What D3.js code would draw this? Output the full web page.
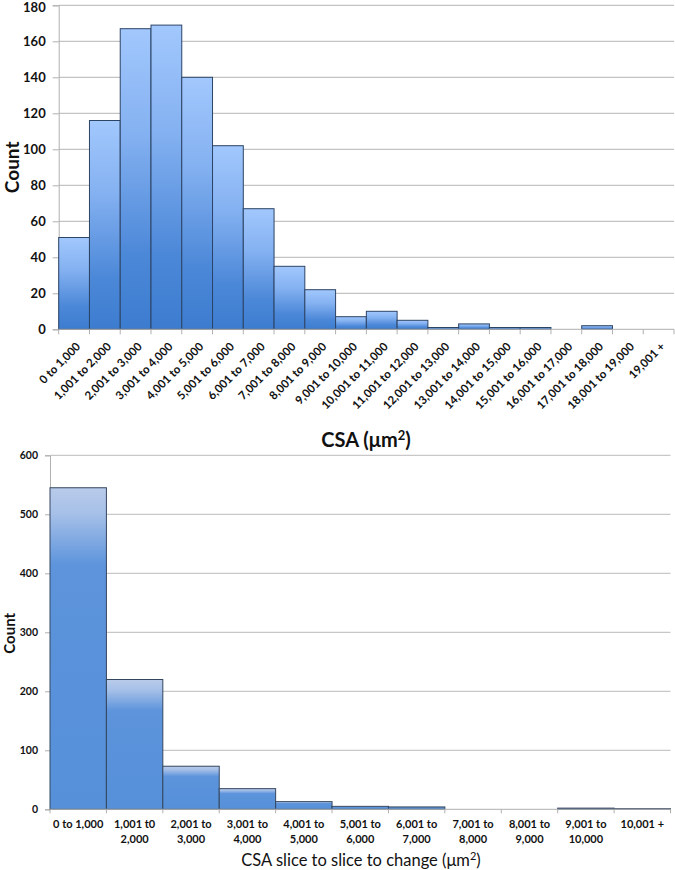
<!DOCTYPE html>
<html>
<head>
<meta charset="utf-8">
<script src="https://cdn.jsdelivr.net/npm/d3@7"></script>
<style>
  body { margin: 0; background: #fff; }
  svg { display: block; font-family: Lato, "Open Sans", sans-serif; }
</style>
</head>
<body>
<svg id="chart" width="675" height="870"></svg>
<script>
// ---------- Data ----------
const topCategories = ["0 to 1,000","1,001 to 2,000","2,001 to 3,000","3,001 to 4,000","4,001 to 5,000",
  "5,001 to 6,000","6,001 to 7,000","7,001 to 8,000","8,001 to 9,000","9,001 to 10,000",
  "10,001 to 11,000","11,001 to 12,000","12,001 to 13,000","13,001 to 14,000","14,001 to 15,000",
  "15,001 to 16,000","16,001 to 17,000","17,001 to 18,000","18,001 to 19,000","19,001 +"];
const topCounts = [51,116,167,169,140,102,67,35,22,7,10,5,1,3,1,1,0,2,0,0];
const topTicks = [0,20,40,60,80,100,120,140,160,180];

const bottomCategories = [["0 to 1,000"],["1,001 t0","2,000"],["2,001 to","3,000"],["3,001 to","4,000"],
  ["4,001 to","5,000"],["5,001 to","6,000"],["6,001 to","7,000"],["7,001 to","8,000"],
  ["8,001 to","9,000"],["9,001 to","10,000"],["10,001 +"]];
const bottomCounts = [545,220,73,35,13,5,4,0,0,2,1];
const bottomTicks = [0,100,200,300,400,500,600];

const svg = d3.select("#chart");
const defs = svg.append("defs");

const g1 = defs.append("linearGradient").attr("id","gradTop").attr("x1",0).attr("y1",0).attr("x2",0).attr("y2",1);
g1.append("stop").attr("offset","0%").attr("stop-color","#a2c8fd");
g1.append("stop").attr("offset","35%").attr("stop-color","#84b1f1");
g1.append("stop").attr("offset","75%").attr("stop-color","#4c88d8");
g1.append("stop").attr("offset","100%").attr("stop-color","#3c7ccf");

const g2 = defs.append("linearGradient").attr("id","gradBot").attr("x1",0).attr("y1",0).attr("x2",0).attr("y2",1);
g2.append("stop").attr("offset","0%").attr("stop-color","#b9cbea");
g2.append("stop").attr("offset","8%").attr("stop-color","#a6c0e8");
g2.append("stop").attr("offset","24%").attr("stop-color","#5d94dc");
g2.append("stop").attr("offset","100%").attr("stop-color","#5590d8");

// ---------- Top chart ----------
{
  const x0 = 58.7, x1 = 674, yb = 329.3, yt = 5.3;
  const x = d3.scaleBand().domain(topCategories).range([x0, x1]).padding(0);
  const y = d3.scaleLinear().domain([0, 180]).range([yb, yt]);
  const g = svg.append("g");

  g.selectAll("line.grid").data(topTicks.filter(t => t > 0)).join("line")
    .attr("x1", x0).attr("x2", x1)
    .attr("y1", d => y(d)).attr("y2", d => y(d))
    .attr("stroke", "#c3c3c3").attr("stroke-width", 1.2);

  const ya = d3.axisLeft(y).tickValues(topTicks).tickSize(6).tickPadding(7);
  const yg = g.append("g").attr("transform", `translate(${x0},0)`).call(ya);
  yg.select(".domain").attr("stroke", "#b0b0b0");
  yg.selectAll(".tick line").attr("stroke", "#b0b0b0");
  yg.selectAll(".tick text").attr("font-size", 13).attr("font-weight", "bold")
    .attr("fill", "#111").attr("font-family", "Lato, sans-serif")
    .attr("dy", d => d === 180 ? "0.45em" : "0.32em");

  g.selectAll("rect.bar").data(topCounts).join("rect")
    .attr("x", (d, i) => x(topCategories[i]))
    .attr("y", d => y(d))
    .attr("width", x.bandwidth())
    .attr("height", d => yb - y(d))
    .attr("fill", "url(#gradTop)")
    .attr("stroke", "#2c4466").attr("stroke-width", 1)
    .attr("display", d => d > 0 ? null : "none");

  g.append("line").attr("x1", x0).attr("x2", x1).attr("y1", yb).attr("y2", yb)
    .attr("stroke", "#b0b0b0").attr("stroke-width", 1);
  const bounds = topCategories.map(c => x(c)).concat([x1]);
  g.selectAll("line.xt").data(bounds).join("line")
    .attr("x1", d => d).attr("x2", d => d).attr("y1", yb).attr("y2", yb + 5)
    .attr("stroke", "#b0b0b0");

  g.selectAll("text.xl").data(topCategories).join("text")
    .attr("transform", d => `translate(${x(d) + x.bandwidth() / 2 + 7},${yb + 18}) rotate(-45)`)
    .attr("text-anchor", "end")
    .attr("font-size", 11.5).attr("font-weight", "bold").attr("fill", "#111")
    .text(d => d);

  svg.append("text").attr("transform", `translate(${19},${y(90)}) rotate(-90)`)
    .attr("text-anchor", "middle").attr("font-size", 19).attr("font-weight", "bold").attr("fill", "#111")
    .text("Count");
  const t = svg.append("text").attr("x", 366).attr("y", 447).attr("text-anchor", "middle")
    .attr("font-size", 20).attr("font-weight", "bold").attr("fill", "#111");
  t.append("tspan").text("CSA (μm");
  t.append("tspan").attr("dy", -7).attr("font-size", 13).text("2");
  t.append("tspan").attr("dy", 7).text(")");
}

// ---------- Bottom chart ----------
{
  const x0 = 50, x1 = 670.5, yb = 809.3, yt = 455.3;
  const x = d3.scaleBand().domain(d3.range(bottomCategories.length)).range([x0, x1]).padding(0);
  const y = d3.scaleLinear().domain([0, 600]).range([yb, yt]);
  const g = svg.append("g");

  g.selectAll("line.grid").data(bottomTicks.filter(t => t > 0)).join("line")
    .attr("x1", x0).attr("x2", x1)
    .attr("y1", d => y(d)).attr("y2", d => y(d))
    .attr("stroke", "#c8c8c8").attr("stroke-width", 1.2);

  const ya = d3.axisLeft(y).tickValues(bottomTicks).tickSize(5).tickPadding(7);
  const yg = g.append("g").attr("transform", `translate(${x0},0)`).call(ya);
  yg.select(".domain").attr("stroke", "#b0b0b0");
  yg.selectAll(".tick line").attr("stroke", "#b0b0b0");
  yg.selectAll(".tick text").attr("font-size", 10.5).attr("font-weight", "bold")
    .attr("fill", "#111").attr("font-family", "Lato, sans-serif");

  g.selectAll("rect.bar").data(bottomCounts).join("rect")
    .attr("x", (d, i) => x(i))
    .attr("y", d => y(d))
    .attr("width", x.bandwidth())
    .attr("height", d => yb - y(d))
    .attr("fill", "url(#gradBot)")
    .attr("stroke", "#34465e").attr("stroke-width", 1)
    .attr("display", d => d > 0 ? null : "none");

  g.append("line").attr("x1", x0).attr("x2", x1).attr("y1", yb).attr("y2", yb)
    .attr("stroke", "#b0b0b0");
  const bounds = d3.range(bottomCategories.length).map(i => x(i)).concat([x1]);
  g.selectAll("line.xt").data(bounds).join("line")
    .attr("x1", d => d).attr("x2", d => d).attr("y1", yb).attr("y2", yb + 4)
    .attr("stroke", "#b0b0b0");

  const lab = g.selectAll("text.xl").data(bottomCategories).join("text")
    .attr("text-anchor", "middle").attr("font-size", 11).attr("font-weight", "bold").attr("fill", "#111");
  lab.each(function(d, i) {
    const el = d3.select(this);
    d.forEach((line, j) => {
      el.append("tspan").attr("x", x(i) + x.bandwidth() / 2).attr("y", 828 + j * 14.5).text(line);
    });
  });

  svg.append("text").attr("transform", `translate(${15},${y(300) + 1}) rotate(-90)`)
    .attr("text-anchor", "middle").attr("font-size", 15).attr("font-weight", "bold").attr("fill", "#111")
    .text("Count");
  const t = svg.append("text").attr("x", 361).attr("y", 866).attr("text-anchor", "middle")
    .attr("font-size", 16.5).attr("fill", "#111");
  t.append("tspan").text("CSA slice to slice to change (μm");
  t.append("tspan").attr("dy", -6).attr("font-size", 11).text("2");
  t.append("tspan").attr("dy", 6).text(")");
}
</script>
</body>
</html>
